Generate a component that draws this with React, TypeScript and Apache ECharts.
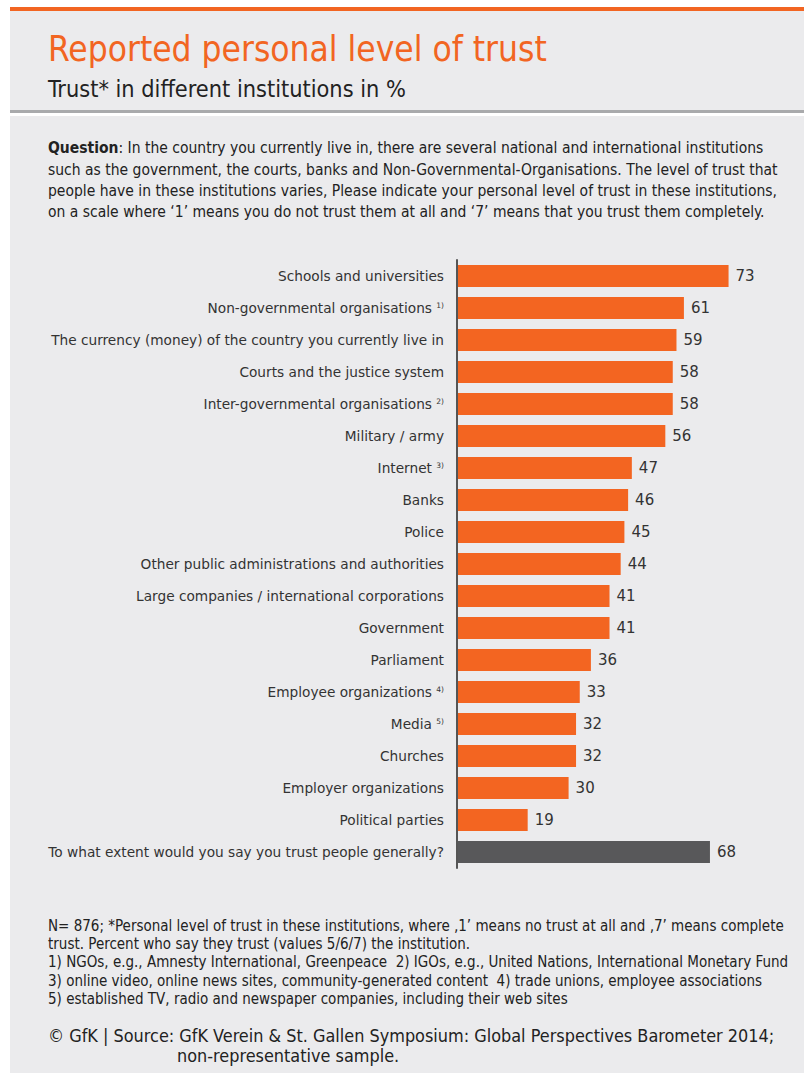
import React, { useEffect, useRef } from "react";
import * as echarts from "echarts";

const categories = [
  "Schools and universities",
  "Non-governmental organisations",
  "The currency (money) of the country you currently live in",
  "Courts and the justice system",
  "Inter-governmental organisations",
  "Military / army",
  "Internet",
  "Banks",
  "Police",
  "Other public administrations and authorities",
  "Large companies / international corporations",
  "Government",
  "Parliament",
  "Employee organizations",
  "Media",
  "Churches",
  "Employer organizations",
  "Political parties",
  "To what extent would you say you trust people generally?",
];
const footnoteMarks = ["", "1)", "", "", "2)", "", "3)", "", "", "", "", "", "", "4)", "5)", "", "", "", ""];
const values = [73, 61, 59, 58, 58, 56, 47, 46, 45, 44, 41, 41, 36, 33, 32, 32, 30, 19, 68];

const titleText = "Reported personal level of trust";
const subtitleText = "Trust* in different institutions in %";
const questionLines = [
  "{b|Question}: In the country you currently live in, there are several national and international institutions",
  "such as the government, the courts, banks and Non-Governmental-Organisations. The level of trust that",
  "people have in these institutions varies, Please indicate your personal level of trust in these institutions,",
  "on a scale where \u20181\u2019 means you do not trust them at all and \u20187\u2019 means that you trust them completely.",
];
const noteLines = [
  "N= 876; *Personal level of trust in these institutions, where \u201a1\u2019 means no trust at all and \u201a7\u2019 means complete",
  "trust. Percent who say they trust (values 5/6/7) the institution.",
  "1) NGOs, e.g., Amnesty International, Greenpeace  2) IGOs, e.g., United Nations, International Monetary Fund",
  "3) online video, online news sites, community-generated content  4) trade unions, employee associations",
  "5) established TV, radio and newspaper companies, including their web sites",
];
const sourceLines = [
  "\u00a9 GfK | Source: GfK Verein & St. Gallen Symposium: Global Perspectives Barometer 2014;",
  "non-representative sample.",
];

const ORANGE = "#f26522";
const BAR = "#f36521";
const DARK = "#58585a";
const PANEL = "#ebebed";
const NARROW = "'Liberation Sans Narrow', 'DejaVu Sans Condensed', sans-serif";
const LABELFONT = "'DejaVu Sans', sans-serif";

export default function App() {
  const ref = useRef<HTMLDivElement>(null);
  useEffect(() => {
    if (!ref.current) return;
    const chart = echarts.init(ref.current, undefined, { renderer: "svg" });

    const qY = [148, 170, 191, 212];
    const nY = [926, 944, 962, 981, 999];
    const txt = (x: number, y: number, text: string, size: number, fill: string, extra: any = {}) => ({
      type: "text",
      x,
      y,
      style: {
        text,
        font: `${size}px ${NARROW}`,
        fill,
        textAlign: "left",
        textVerticalAlign: "middle",
        align: "left",
        verticalAlign: "middle",
        ...extra,
      },
      z: 10,
    });
    const rect = (x: number, y: number, w: number, h: number, fill: string) => ({
      type: "rect",
      shape: { x, y, width: w, height: h },
      style: { fill },
      z: -10,
      silent: true,
    });

    const graphic: any[] = [
      rect(10, 7, 794, 4, ORANGE),
      rect(10, 11, 794, 99, PANEL),
      rect(10, 110, 794, 3, "#a9aaac"),
      rect(10, 116, 794, 957, PANEL),
      txt(48, 49, titleText, 35, ORANGE),
      txt(48, 88, subtitleText, 23.3, "#222"),
      ...questionLines.map((l, i) =>
        txt(48, qY[i], l, 15.5, "#222", {
          rich: { b: { font: `bold 15.5px ${NARROW}`, fill: "#222" } },
        })
      ),
      ...noteLines.map((l, i) => txt(48, nY[i], l, 15, "#222")),
      txt(48, 1035, sourceLines[0], 17.9, "#222"),
      txt(177, 1055, sourceLines[1], 17.9, "#222"),
    ];

    chart.setOption({
      animation: false,
      graphic,
      grid: { left: 457, top: 260, width: 297.6, height: 608, containLabel: false },
      xAxis: {
        type: "value",
        min: 0,
        max: 80,
        show: false,
      },
      yAxis: {
        type: "category",
        inverse: true,
        data: categories,
        z: 5,
        axisTick: { show: false },
        axisLine: { show: true, lineStyle: { color: "#555", width: 2 } },
        axisLabel: {
          margin: 13,
          color: "#333",
          fontFamily: LABELFONT,
          fontSize: 13.7,
          formatter: (v: string, i: number) => (footnoteMarks[i] ? `${v} {sup|${footnoteMarks[i]}}` : v),
          rich: {
            sup: { fontSize: 7.5, fontFamily: LABELFONT, color: "#333", verticalAlign: "top", lineHeight: 8 },
          },
        },
      },
      series: [
        {
          type: "bar",
          barWidth: 22,
          data: values.map((v, i) =>
            i === values.length - 1 ? { value: v, itemStyle: { color: DARK } } : v
          ),
          itemStyle: { color: BAR },
          label: {
            show: true,
            position: "right",
            distance: 7,
            color: "#333",
            fontFamily: LABELFONT,
            fontSize: 15,
          },
          z: 4,
        },
      ],
    });
    return () => chart.dispose();
  }, []);
  return (
    <div
      ref={ref}
      style={{ position: "absolute", left: 0, top: 0, width: 806, height: 1073, background: "#fff" }}
    />
  );
}
